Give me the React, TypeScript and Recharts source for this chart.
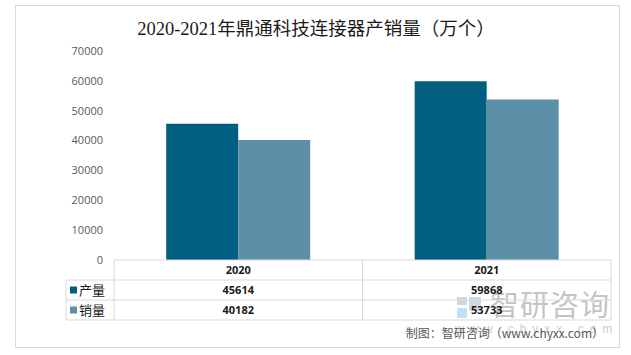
import React from "react";
import { BarChart, Bar, XAxis, YAxis, Customized } from "recharts";

const years = ["2020", "2021"];
const production = [45614, 59868];
const sales = [40182, 53733];
const yTicks = [0, 10000, 20000, 30000, 40000, 50000, 60000, 70000];
const seriesNames = ["产量", "销量"];
const title = "2020-2021年鼎通科技连接器产销量（万个）";
const sourceText = "制图：智研咨询（www.chyxx.com）";

const COLORS = ["#005F80", "#5B90A8"];
const W = 631;
const H = 355;
const MARGIN = { top: 51, right: 20, left: 54, bottom: 35 };
const YAXIS_W = 60;
const XAXIS_H = 60;
const PLOT_LEFT = MARGIN.left + YAXIS_W;
const PLOT_RIGHT = W - MARGIN.right;
const PLOT_W = PLOT_RIGHT - PLOT_LEFT;
const AXIS_Y = H - MARGIN.bottom - XAXIS_H;
const ROW_H = 20;
const LABEL_LEFT = 66;
const LINE = "#d9d9d9";

const data = years.map((y, i) => ({ year: y, p: production[i], s: sales[i] }));
const seriesValues = [production, sales];

const TableTick = (props: any) => {
  const { x, payload, index } = props;
  const bw = PLOT_W / years.length;
  const left = x - bw / 2;
  const right = x + bw / 2;
  const i = index;
  return (
    <g>
      <line x1={left} x2={left} y1={AXIS_Y} y2={AXIS_Y + ROW_H * 3} stroke={LINE} />
      <line x1={right} x2={right} y1={AXIS_Y} y2={AXIS_Y + ROW_H * 3} stroke={LINE} />
      {[1, 2, 3].map((r) => (
        <line key={r} x1={left} x2={right} y1={AXIS_Y + ROW_H * r} y2={AXIS_Y + ROW_H * r} stroke={LINE} />
      ))}
      <text x={x} y={AXIS_Y + ROW_H * 0.5 + 4} textAnchor="middle" fontSize={11} fontWeight="bold" fill="#1a1a1a" fontFamily="'Open Sans', 'Liberation Sans', sans-serif">
        {payload.value}
      </text>
      {seriesValues.map((vals, r) => (
        <text key={r} x={x} y={AXIS_Y + ROW_H * (r + 1.5) + 4} textAnchor="middle" fontSize={11} fontWeight="bold" fill="#1a1a1a" fontFamily="'Open Sans', 'Liberation Sans', sans-serif">
          {vals[i]}
        </text>
      ))}
      {index === 0 && (
        <g>
          <line x1={LABEL_LEFT} x2={LABEL_LEFT} y1={AXIS_Y + ROW_H} y2={AXIS_Y + ROW_H * 3} stroke={LINE} />
          {[1, 2, 3].map((r) => (
            <line key={r} x1={LABEL_LEFT} x2={left} y1={AXIS_Y + ROW_H * r} y2={AXIS_Y + ROW_H * r} stroke={LINE} />
          ))}
          {seriesNames.map((n, r) => (
            <g key={n}>
              <rect x={LABEL_LEFT + 4} y={AXIS_Y + ROW_H * (r + 1.5) - 3.5} width={7} height={7} fill={COLORS[r]} />
              <text x={LABEL_LEFT + 13} y={AXIS_Y + ROW_H * (r + 1.5) + 5} fontSize={13} fill="#1a1a1a" fontFamily="'Noto Sans CJK SC', sans-serif">
                {n}
              </text>
            </g>
          ))}
        </g>
      )}
    </g>
  );
};

const Decor = () => (
  <g>
    <rect x={15.5} y={5.5} width={604} height={342} fill="none" stroke={LINE} />
    <text x={316} y={35} textAnchor="middle" fontSize={18.5} fill="#1a1a1a" fontFamily="'Liberation Serif', 'DejaVu Serif', 'Noto Sans CJK SC', serif">
      {title}
    </text>
    <g opacity={0.5}>
      <rect x={457} y={297} width={10} height={8} fill="#9fb2c6" />
      <rect x={469} y={297} width={12} height={14} fill="#9fb2c6" />
      <rect x={457} y={308} width={10} height={10} fill="#8fc3e8" />
      <text x={490} y={316} fontSize={29} fill="#8a8a8a" fontFamily="'Noto Sans CJK SC', sans-serif" letterSpacing={1}>
        智研咨询
      </text>
      <text x={455} y={333} fontSize={12} fill="#9a9a9a" fontFamily="'Liberation Sans', sans-serif" letterSpacing={6}>
        www.chyxx.com
      </text>
    </g>
    <text x={604} y={338} textAnchor="end" fontSize={12} fill="#595959" fontFamily="'Noto Sans CJK SC', sans-serif">
      {sourceText}
    </text>
  </g>
);

export default function App() {
  return (
    <div style={{ position: "absolute", left: 0, top: 0, width: W, height: H, background: "#fff" }}>
      <BarChart width={W} height={H} data={data} margin={MARGIN} barCategoryGap="21%" barGap={0}>
        <XAxis
          dataKey="year"
          height={XAXIS_H}
          axisLine={{ stroke: LINE }}
          tickLine={false}
          tick={<TableTick />}
          interval={0}
        />
        <YAxis
          width={YAXIS_W}
          domain={[0, 70000]}
          ticks={yTicks}
          axisLine={false}
          tickLine={false}
          tickMargin={5}
          tick={{ fontSize: 11, fill: "#595959", fontFamily: "'Open Sans', 'Liberation Sans', sans-serif" }}
        />
        <Bar dataKey="p" name={seriesNames[0]} fill={COLORS[0]} isAnimationActive={false} />
        <Bar dataKey="s" name={seriesNames[1]} fill={COLORS[1]} isAnimationActive={false} />
        <Customized component={<Decor />} />
      </BarChart>
    </div>
  );
}
